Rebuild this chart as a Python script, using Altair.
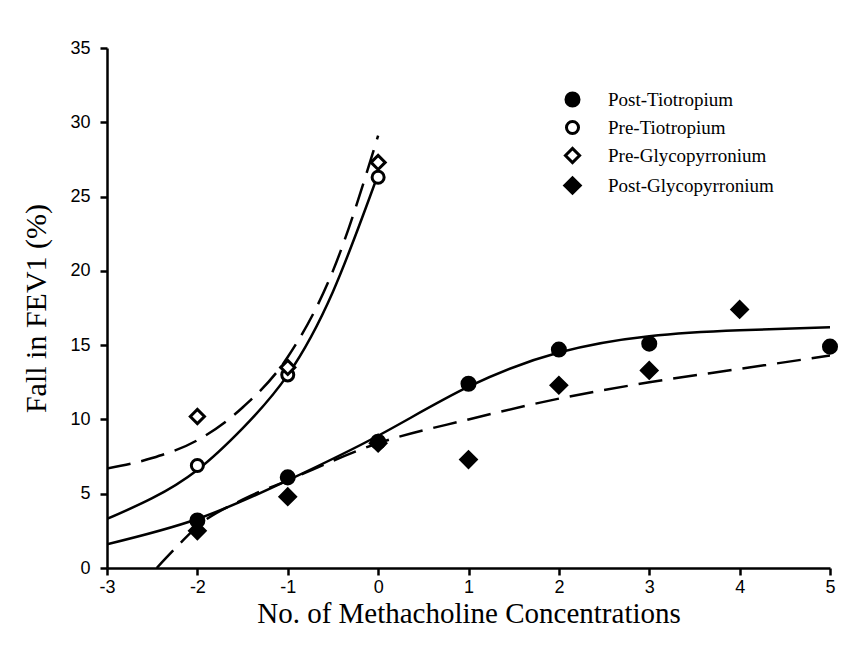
import altair as alt
import pandas as pd

# ---- observed data points ----
series_names = ["Post-Tiotropium", "Pre-Tiotropium", "Pre-Glycopyrronium", "Post-Glycopyrronium"]

post_tio_x = [-2, -1, 0, 1, 2, 3, 5]
post_tio_y = [3.2, 6.1, 8.5, 12.4, 14.7, 15.1, 14.9]

pre_tio_x = [-2, -1, 0]
pre_tio_y = [6.9, 13.0, 26.3]

pre_gly_x = [-2, -1, 0]
pre_gly_y = [10.2, 13.5, 27.3]

post_gly_x = [-2, -1, 0, 1, 2, 3, 4]
post_gly_y = [2.5, 4.8, 8.4, 7.3, 12.3, 13.3, 17.4]

# ---- fitted curves ----
pre_tio_curve_x = [-3, -2.5, -2, -1.5, -1, -0.5, 0]
pre_tio_curve_y = [3.3, 4.7, 6.6, 9.4, 13.0, 18.6, 26.5]

pre_gly_curve_x = [-3, -2.5, -2, -1.5, -1, -0.5, 0]
pre_gly_curve_y = [6.7, 7.4, 8.6, 10.8, 14.2, 20.0, 29.1]

post_tio_curve_x = [-3, -2, -1, 0, 1, 2, 3, 4, 5]
post_tio_curve_y = [1.6, 3.3, 5.9, 8.9, 12.2, 14.5, 15.6, 16.0, 16.2]

post_gly_curve_x = [-2.45, -2.2, -2, -1.5, -1, 0, 1, 2, 3, 4, 5]
post_gly_curve_y = [0.0, 1.6, 2.8, 4.6, 5.9, 8.4, 10.0, 11.4, 12.5, 13.4, 14.3]

x_ticks = [-3, -2, -1, 0, 1, 2, 3, 4, 5]
y_ticks = [0, 5, 10, 15, 20, 25, 30, 35]

# ---- build tables ----
rows = []
for name, xs, ys in [
    (series_names[0], post_tio_x, post_tio_y),
    (series_names[1], pre_tio_x, pre_tio_y),
    (series_names[2], pre_gly_x, pre_gly_y),
    (series_names[3], post_gly_x, post_gly_y),
]:
    for a, b in zip(xs, ys):
        rows.append({"series": name, "x": a, "y": b})
points = pd.DataFrame(rows)

crow = []
for name, xs, ys, style in [
    ("Pre-Tiotropium fit", pre_tio_curve_x, pre_tio_curve_y, "solid"),
    ("Post-Tiotropium fit", post_tio_curve_x, post_tio_curve_y, "solid"),
    ("Pre-Glycopyrronium fit", pre_gly_curve_x, pre_gly_curve_y, "dash"),
    ("Post-Glycopyrronium fit", post_gly_curve_x, post_gly_curve_y, "dash"),
]:
    for i, (a, b) in enumerate(zip(xs, ys)):
        crow.append({"curve": name, "x": a, "y": b, "style": style, "order": i})
curves = pd.DataFrame(crow)

xscale = alt.Scale(domain=[-3, 5], nice=False, zero=False)
yscale = alt.Scale(domain=[0, 35], nice=False)

xaxis = alt.Axis(values=x_ticks, title="No. of Methacholine Concentrations",
                 labelExpr="'' + datum.value", titleFontSize=29)
yaxis = alt.Axis(values=y_ticks, title="Fall in FEV1 (%)",
                 labelExpr="'' + datum.value", titleFontSize=30)

solid = alt.Chart(curves).transform_filter(alt.datum.style == "solid").mark_line(
    color="black", strokeWidth=2.5, interpolate="natural", clip=True
).encode(
    x=alt.X("x:Q", scale=xscale, axis=xaxis),
    y=alt.Y("y:Q", scale=yscale, axis=yaxis),
    detail="curve:N",
    order="order:Q",
)

dashed = alt.Chart(curves).transform_filter(alt.datum.style == "dash").mark_line(
    color="black", strokeWidth=2.5, strokeDash=[24, 11], interpolate="monotone", clip=True
).encode(
    x=alt.X("x:Q", scale=xscale),
    y=alt.Y("y:Q", scale=yscale),
    detail="curve:N",
    order="order:Q",
)

legend = alt.Legend(
    title=None,
    orient="none",
    legendX=456,
    legendY=42,
    labelFont="Liberation Serif",
    labelFontSize=19,
    labelColor="black",
    labelOffset=26,
    labelLimit=0,
    rowPadding=2,
    symbolStrokeWidth=3,
    symbolOpacity=1,
    padding=0,
)

pts = alt.Chart(points).mark_point(
    strokeWidth=3, opacity=1
).encode(
    x=alt.X("x:Q", scale=xscale),
    y=alt.Y("y:Q", scale=yscale),
    shape=alt.Shape("series:N", scale=alt.Scale(domain=series_names,
                    range=["circle", "circle", "diamond", "diamond"]), legend=legend),
    fill=alt.Fill("series:N", scale=alt.Scale(domain=series_names,
                  range=["black", "white", "white", "black"]), legend=legend),
    stroke=alt.Stroke("series:N", scale=alt.Scale(domain=series_names,
                      range=["black", "black", "black", "black"]), legend=legend),
    size=alt.Size("series:N", scale=alt.Scale(type="ordinal", domain=series_names,
                  range=[170, 145, 200, 240]), legend=legend),
)

chart = alt.layer(solid, dashed, pts).properties(
    width=723,
    height=520,
    padding={"left": 107, "top": 48, "right": 36, "bottom": 90},
    autosize=alt.AutoSizeParams(type="none"),
    background="white",
).configure_view(
    stroke=None
).configure_axis(
    grid=False,
    domainColor="black",
    domainWidth=2.5,
    tickColor="black",
    tickWidth=2.5,
    tickSize=7,
    labelFont="Liberation Sans",
    labelFontSize=18,
    labelColor="black",
    titleFont="Liberation Serif",
    titleFontWeight="normal",
    titleColor="black",
).configure_axisX(
    labelPadding=3,
    titlePadding=3,
    labelFlush=False,
).configure_axisY(
    labelPadding=10,
    titlePadding=18,
)

chart.save("out.html", embed_options={"renderer": "svg", "actions": False})
